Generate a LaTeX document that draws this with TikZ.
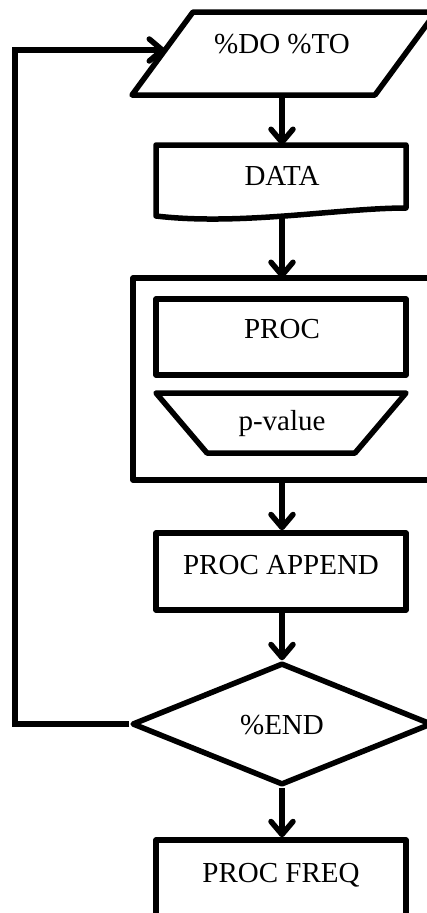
\documentclass[tikz,border=0pt]{standalone}
\usepackage{fontspec}
\setmainfont{Liberation Serif}
\usetikzlibrary{arrows.meta,shapes.geometric}
\begin{document}
\begin{tikzpicture}[x=1pt,y=-1pt,
  outline/.style={draw, line width=5.5pt, line join=round},
  flow/.style={line width=5.5pt, -{Straight Barb[length=13pt,width=22pt,line join=round,line cap=round]}},
  lbl/.style={font=\fontsize{29}{34}\selectfont, inner sep=0pt, anchor=base},
  boxnode/.style={outline, rectangle, minimum width=250pt, inner sep=0pt}
]
\useasboundingbox (0,0) rectangle (427,913);
\clip (0,0) rectangle (427,913);

% input parallelogram
\draw[outline] (193,12) -- (436,12) -- (375,95) -- (132,95) -- cycle;
\coordinate (do-b) at (282,95);
\coordinate (do-l) at (165,50);
\node[lbl] (tdo) at (282,53) {\%DO \%TO};

% document shape
\draw[outline] (156,145) -- (406,145) -- (406,208) .. controls (340,208) and (240,226) .. (156,216) -- cycle;
\coordinate (data-t) at (282,145);
\coordinate (data-b) at (282,216);
\node[lbl] (tdata) at (282,185) {DATA};

% container
\draw[outline] (133,278) rectangle (470,480);
\coordinate (grp-t) at (282,278);
\coordinate (grp-b) at (282,480);

\node[boxnode, minimum height=76pt] (proc) at (281,337) {};
\node[lbl] (tproc) at (282,338) {PROC};

\draw[outline] (156,393) -- (406,393) -- (355,453) -- (207,453) -- cycle;
\node[lbl] (tpv) at (282,430) {p-value};

\node[boxnode, minimum height=77pt] (append) at (281,571.5) {};
\node[lbl] (tappend) at (281,574) {PROC APPEND};

\node[outline, diamond, minimum width=300pt, minimum height=122pt, inner sep=0pt] (end) at (282,724) {};
\node[lbl] (tend) at (282,734) {\%END};

\node[boxnode, minimum height=110pt] (freq) at (281,895) {};
\node[lbl] (tfreq) at (281,882) {PROC FREQ};

\coordinate (loopx) at (15,0);

\draw[flow] (do-b) -- (data-t);
\draw[flow] (data-b) -- (grp-t);
\draw[flow] (grp-b) -- (grp-b |- append.north);
\draw[flow] (append.south -| end.north) -- (end.north);
\draw[flow] (end.south) -- (end.south |- freq.north);
\draw[flow] (end.west) -- (end.west -| loopx) -- (loopx |- do-l) -- (do-l);
\end{tikzpicture}
\end{document}
